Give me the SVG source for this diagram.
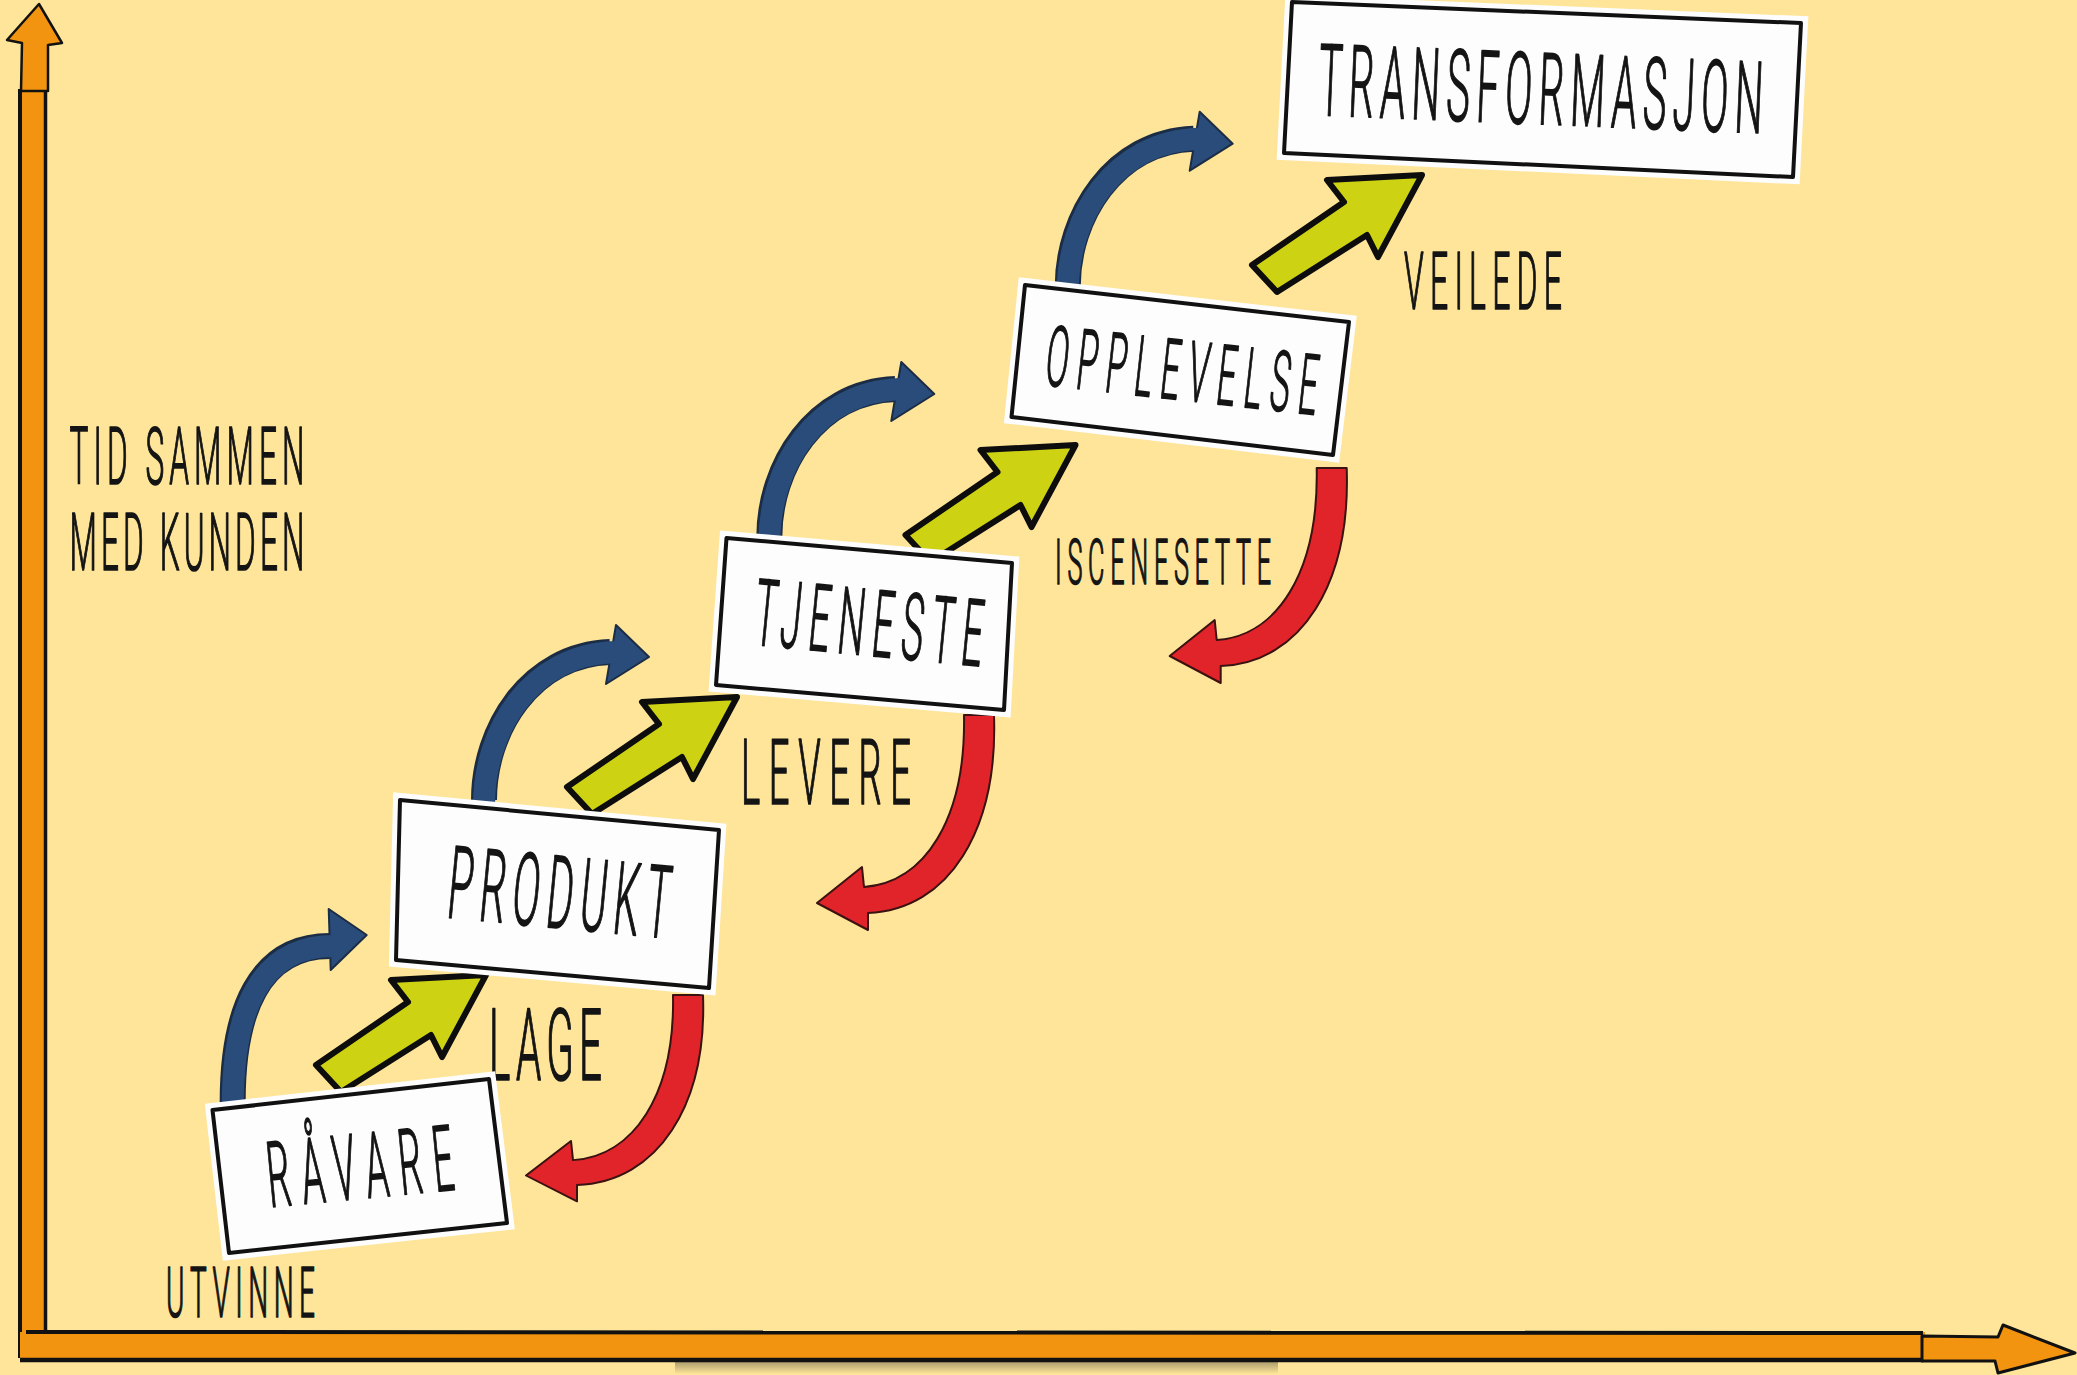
<svg xmlns="http://www.w3.org/2000/svg" width="2077" height="1375" viewBox="0 0 2077 1375">
<defs>
<style>
.t{font-family:Roboto,"Liberation Sans",sans-serif;font-weight:300;fill:#141414;stroke:#141414;stroke-width:1.3;vector-effect:non-scaling-stroke;stroke-linejoin:round}
.paper{fill:#fdfdfd;stroke:#fdfdfd;stroke-width:14;stroke-linejoin:miter}
.frame{fill:none;stroke:#111;stroke-width:4;stroke-linejoin:round}
.green{fill:#CDD312;stroke:#0d0d0d;stroke-width:6;stroke-linejoin:round}
.red{fill:#E1232A;stroke:#3a1212;stroke-width:2;stroke-linejoin:round}
.bout{fill:none;stroke:#1b2c45;stroke-width:26}
.bin{fill:none;stroke:#2A4C7A;stroke-width:22}
.bhead{fill:#2A4C7A;stroke:#1b2c45;stroke-width:2;stroke-linejoin:round}
.orange{fill:#F29410}
</style>
<linearGradient id="shadow" x1="0" y1="0" x2="0" y2="1">
<stop offset="0" stop-color="#8a7d5a" stop-opacity="0.75"/>
<stop offset="1" stop-color="#8a7d5a" stop-opacity="0"/>
</linearGradient>
<path id="garrow" d="M-170,90 L-78,27 L-95,5 L0,0 L-44,82 L-55,60 L-145,117 Z"/>
<path id="rarrow" d="M15,0 C19,115 -30,195 -111,198 L-111,215 L-162,188 L-117,152 L-115,172 C-55,168 -13,105 -15,0 Z"/>
</defs>
<rect width="2077" height="1375" fill="#FEE599"/>

<g id="axes">
<rect x="675" y="1361" width="603" height="13" fill="url(#shadow)"/>
<rect class="orange" x="20" y="89" width="26" height="1270"/>
<line x1="20" y1="89" x2="20" y2="1358" stroke="#111" stroke-width="4"/>
<line x1="45.5" y1="89" x2="45.5" y2="1340" stroke="#111" stroke-width="3.5"/>
<polygon class="orange" points="39,4 62,43 48,45 48,91 21,91 22,43 7,40" stroke="#111" stroke-width="2.5" stroke-linejoin="round"/>
<rect class="orange" x="20" y="1332" width="1905" height="28"/>
<line x1="26" y1="1332" x2="1923" y2="1333" stroke="#111" stroke-width="4"/>
<line x1="20" y1="1360" x2="1923" y2="1360" stroke="#111" stroke-width="4.5"/>
<polygon class="orange" points="1922,1336 1998,1337 2003,1325 2075,1353 1998,1373 1995,1361 1922,1361" stroke="#111" stroke-width="3" stroke-linejoin="round"/>
<g transform="translate(187,456)"><text class="t" transform="scale(0.4,1)" y="28" font-size="79" text-anchor="middle" textLength="587" lengthAdjust="spacing">TID SAMMEN</text></g>
<g transform="translate(187,542)"><text class="t" transform="scale(0.4,1)" y="28" font-size="79" text-anchor="middle" textLength="587" lengthAdjust="spacing">MED KUNDEN</text></g>
</g>

<g id="connectors">
<g id="green-arrows">
<use href="#garrow" class="green" transform="translate(486,975)"/>
<use href="#garrow" class="green" transform="translate(737,697)"/>
<use href="#garrow" class="green" transform="translate(1075.5,445)"/>
<use href="#garrow" class="green" transform="translate(1422,175)"/>
</g>
<g id="blue-arrows">
<g transform="translate(232.7,1107)">
<path class="bout" d="M0,0 C-1,-97 27,-161 97,-161"/>
<polygon class="bhead" points="96,-198 134,-172 98,-137"/>
<path class="bin" d="M0,6 C-1,-97 27,-161 101,-161"/>
</g>
<g transform="translate(484,800)">
<path class="bout" d="M0,0 C0,-70 46,-145 126,-148"/>
<polygon class="bhead" points="132,-175 165,-143 122,-116"/>
<path class="bin" d="M0,6 C0,-70 46,-145 131,-148"/>
</g>
<g transform="translate(769.3,537)">
<path class="bout" d="M0,0 C0,-70 46,-145 126,-148"/>
<polygon class="bhead" points="132,-175 165,-143 122,-116"/>
<path class="bin" d="M0,6 C0,-70 46,-145 131,-148"/>
</g>
<g transform="translate(1067.7,286.7)">
<path class="bout" d="M0,0 C0,-70 46,-145 126,-148"/>
<polygon class="bhead" points="132,-175 165,-143 122,-116"/>
<path class="bin" d="M0,6 C0,-70 46,-145 131,-148"/>
</g>
</g>
<g id="red-arrows">
<use href="#rarrow" class="red" transform="translate(688,995) scale(1,0.96)"/>
<use href="#rarrow" class="red" transform="translate(979,715)"/>
<use href="#rarrow" class="red" transform="translate(1331.7,468)"/>
</g>
<g id="connector-labels">
<g transform="translate(240.5,1292)"><text class="t" transform="scale(0.4,1)" y="25" font-size="70" text-anchor="middle" textLength="372.5" lengthAdjust="spacing">UTVINNE</text></g>
<g transform="translate(545.5,1044)"><text class="t" transform="scale(0.4,1)" y="36" font-size="101" text-anchor="middle" textLength="282.5" lengthAdjust="spacing">LAGE</text></g>
<g transform="translate(826,771)"><text class="t" transform="scale(0.4,1)" y="32.5" font-size="91" text-anchor="middle" textLength="425" lengthAdjust="spacing">LEVERE</text></g>
<g transform="translate(1163,561)"><text class="t" transform="scale(0.4,1)" y="22.5" font-size="63" text-anchor="middle" textLength="540" lengthAdjust="spacing">ISCENESETTE</text></g>
<g transform="translate(1483,280)"><text class="t" transform="scale(0.4,1)" y="28.5" font-size="80" text-anchor="middle" textLength="395" lengthAdjust="spacing">VEILEDE</text></g>
</g>
</g>

<g id="node-ravare">
<polygon class="paper" points="212.5,1110 489,1079 507,1223 229,1253"/>
<polygon class="frame" points="212.5,1110 489,1079 507,1223 229,1253"/>
<g transform="translate(360,1166) rotate(-5.5)"><text class="t" transform="scale(0.4,1)" y="32.5" font-size="91.4" text-anchor="middle" textLength="467.5" lengthAdjust="spacing">RÅVARE</text></g>
</g>
<g id="node-produkt">
<polygon class="paper" points="400,800 719,830 709,988 396,960"/>
<polygon class="frame" points="400,800 719,830 709,988 396,960"/>
<g transform="translate(560,892) rotate(5.4)"><text class="t" transform="scale(0.4,1)" y="36" font-size="101" text-anchor="middle" textLength="557.5" lengthAdjust="spacing">PRODUKT</text></g>
</g>
<g id="node-tjeneste">
<polygon class="paper" points="726.5,538 1012,563 1004,710 716,685"/>
<polygon class="frame" points="726.5,538 1012,563 1004,710 716,685"/>
<g transform="translate(869.5,622.5) rotate(5.5)"><text class="t" transform="scale(0.4,1)" y="33" font-size="93" text-anchor="middle" textLength="572.5" lengthAdjust="spacing">TJENESTE</text></g>
</g>
<g id="node-opplevelse">
<polygon class="paper" points="1025,285 1349,322 1333,455 1011.5,417"/>
<polygon class="frame" points="1025,285 1349,322 1333,455 1011.5,417"/>
<g transform="translate(1182.5,370) rotate(6.3)"><text class="t" transform="scale(0.4,1)" y="30" font-size="84" text-anchor="middle" textLength="682.5" lengthAdjust="spacing">OPPLEVELSE</text></g>
</g>
<g id="node-transformasjon">
<polygon class="paper" points="1292,2 1801,23 1793,177 1284,153"/>
<polygon class="frame" points="1292,2 1801,23 1793,177 1284,153"/>
<g transform="translate(1541,88.6) rotate(2.35)"><text class="t" transform="scale(0.4,1)" y="35.5" font-size="100" text-anchor="middle" textLength="1112.5" lengthAdjust="spacing">TRANSFORMASJON</text></g>
</g>
</svg>
